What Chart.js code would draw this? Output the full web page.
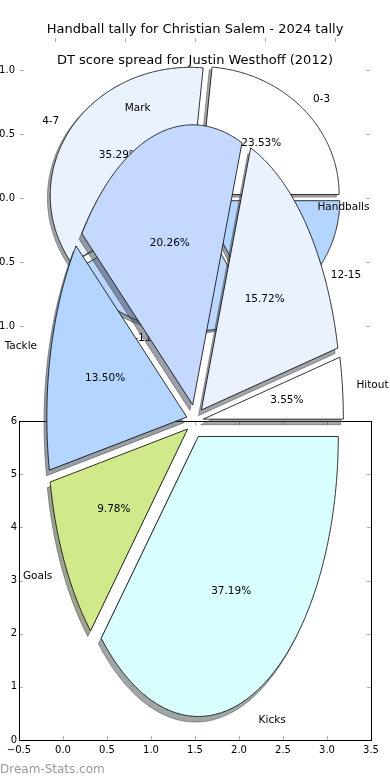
<!DOCTYPE html>
<html><head><meta charset="utf-8">
<script src="https://cdn.jsdelivr.net/npm/chart.js@4.4.1/dist/chart.umd.min.js"></script>
<style>
html,body{margin:0;padding:0;background:#fff;}
#wrap{position:relative;width:390px;height:780px;overflow:hidden;}
#wrap canvas{position:absolute;left:0;top:0;}
</style></head><body>
<div id="wrap">
<canvas id="tally" width="390" height="780"></canvas>
<canvas id="box" width="390" height="780"></canvas>
<canvas id="dt" width="390" height="780"></canvas>
</div>
<script>
// ---- data ----
const tallyTitle = 'Handball tally for Christian Salem - 2024 tally';
const tallyLabels = ['0-3', '4-7', '8-11', '12-15'];
const tallyCounts = [4, 6, 4, 3];
const tallyTicks = [-1, -0.5, 0, 0.5, 1];

const dtTitle = 'DT score spread for Justin Westhoff (2012)';
const dtLabels = ['Hitout', 'Handballs', 'Mark', 'Tackle', 'Goals', 'Kicks'];
const dtPercents = [3.55, 15.72, 20.26, 13.50, 9.78, 37.19];

const boxXTicks = [-0.5, 0, 0.5, 1, 1.5, 2, 2.5, 3, 3.5];
const boxYTicks = [0, 1, 2, 3, 4, 5, 6];

// ---- styles ----
const FONT = '"DejaVu Sans", "Liberation Sans", sans-serif';
const tallyColors = ['#ffffff', '#eaf1ff', '#bcd6ff', '#b3d5ff'];
const dtColors = ['#ffffff', '#eaf1ff', '#c5d8ff', '#b3d5ff', '#cfe98b', '#d8fffe'];
const TICK_GREY = '#adadad';

function fmt1(v) { return (v < 0 ? '\u2212' : '') + Math.abs(v).toFixed(1); }
function shade(hex) {
  const n = parseInt(hex.slice(1), 16);
  const r = ((n >> 16) & 255) * 0.3, g = ((n >> 8) & 255) * 0.3, b = (n & 255) * 0.3;
  return `rgba(${r.toFixed(0)},${g.toFixed(0)},${b.toFixed(0)},0.5)`;
}
function setTicks(list) { return s => { s.ticks = list.map(v => ({ value: v })); }; }

function piePlugin(id, labels, values, colors, explode, title, titleY) {
  return {
    id,
    afterDraw(chart) {
      const ctx = chart.ctx, xs = chart.scales.x, ys = chart.scales.y;
      const X = v => xs.getPixelForValue(v), Y = v => ys.getPixelForValue(v);
      const total = values.reduce((a, b) => a + b, 0);
      let start = 0;
      const wedges = values.map((v, i) => {
        const t1 = start, t2 = start + 360 * v / total; start = t2;
        const m = (t1 + t2) / 2 * Math.PI / 180;
        return { i, t1, t2, m, ox: explode * Math.cos(m), oy: explode * Math.sin(m) };
      });
      const trace = (w, dx, dy) => {
        ctx.beginPath();
        ctx.moveTo(X(w.ox + dx), Y(w.oy + dy));
        const n = Math.max(8, Math.ceil((w.t2 - w.t1) * 2));
        for (let k = 0; k <= n; k++) {
          const a = (w.t1 + (w.t2 - w.t1) * k / n) * Math.PI / 180;
          ctx.lineTo(X(w.ox + dx + Math.cos(a)), Y(w.oy + dy + Math.sin(a)));
        }
        ctx.closePath();
      };
      ctx.save();
      ctx.lineJoin = 'round';
      wedges.forEach(w => {
        const c = shade(colors[w.i]);
        trace(w, -0.02, -0.02);
        ctx.fillStyle = c; ctx.fill();
        ctx.strokeStyle = c; ctx.lineWidth = 1; ctx.stroke();
      });
      wedges.forEach(w => {
        trace(w, 0, 0);
        ctx.fillStyle = colors[w.i]; ctx.fill();
        ctx.strokeStyle = '#000'; ctx.lineWidth = 0.8; ctx.stroke();
      });
      ctx.fillStyle = '#000';
      ctx.font = '10.5px ' + FONT;
      ctx.textBaseline = 'middle';
      wedges.forEach(w => {
        const lx = w.ox + 1.1 * Math.cos(w.m), ly = w.oy + 1.1 * Math.sin(w.m);
        ctx.textAlign = lx > 0 ? 'left' : 'right';
        ctx.fillText(labels[w.i], X(lx), Y(ly));
        const px = w.ox + 0.6 * Math.cos(w.m), py = w.oy + 0.6 * Math.sin(w.m);
        ctx.textAlign = 'center';
        ctx.fillText((100 * values[w.i] / total).toFixed(2) + '%', X(px), Y(py));
      });
      ctx.font = '13px ' + FONT;
      ctx.textAlign = 'center';
      ctx.fillText(title, (chart.chartArea.left + chart.chartArea.right) / 2, titleY);
      ctx.restore();
    }
  };
}

const baseOpts = {
  responsive: false, animation: false, devicePixelRatio: 1,
  plugins: { legend: { display: false }, tooltip: { enabled: false }, title: { display: false } }
};

// ---- chart 1: handball tally pie (its own axes) ----
new Chart(document.getElementById('tally'), {
  type: 'scatter',
  data: { datasets: [] },
  options: Object.assign({}, baseOpts, {
    layout: { padding: { left: 0, right: 20, top: 38, bottom: 422 } },
    scales: {
      x: { type: 'linear', min: -1.25, max: 1.25, display: false, afterBuildTicks: setTicks(tallyTicks) },
      y: {
        type: 'linear', min: -1.25, max: 1.25, position: 'left',
        afterFit: s => { s.width = 20; },
        afterBuildTicks: setTicks(tallyTicks),
        grid: { display: false, drawTicks: false }, border: { display: false },
        ticks: { padding: 5, color: '#000', font: { family: FONT, size: 10 }, callback: v => fmt1(v) }
      }
    }
  }),
  plugins: [{
    id: 'tallyTicks',
    afterDraw(chart) {
      const ctx = chart.ctx, a = chart.chartArea, xs = chart.scales.x, ys = chart.scales.y;
      ctx.save(); ctx.strokeStyle = TICK_GREY; ctx.lineWidth = 1;
      ctx.beginPath();
      tallyTicks.forEach(v => {
        const y = Math.round(ys.getPixelForValue(v)) + 0.5;
        ctx.moveTo(a.left, y); ctx.lineTo(a.left + 4, y);
        ctx.moveTo(a.right - 4, y); ctx.lineTo(a.right, y);
        const x = Math.round(xs.getPixelForValue(v)) + 0.5;
        ctx.moveTo(x, a.top); ctx.lineTo(x, a.top + 4);
      });
      ctx.stroke(); ctx.restore();
    }
  }, piePlugin('tallyPie', tallyLabels, tallyCounts, tallyColors, 0.04, tallyTitle, 30)]
});

// ---- chart 2: the boxed axes ----
new Chart(document.getElementById('box'), {
  type: 'scatter',
  data: { datasets: [] },
  options: Object.assign({}, baseOpts, {
    layout: { padding: { left: 0, right: 19, top: 421, bottom: 0 } },
    scales: {
      x: {
        type: 'linear', min: -0.5, max: 3.5, position: 'bottom',
        afterFit: s => { s.height = 40; },
        afterBuildTicks: setTicks(boxXTicks),
        grid: { display: false, drawTicks: false }, border: { display: false },
        ticks: { padding: 4, color: '#000', autoSkip: false, maxRotation: 0, font: { family: FONT, size: 10 }, callback: v => fmt1(v) }
      },
      y: {
        type: 'linear', min: 0, max: 6, position: 'left',
        afterFit: s => { s.width = 19; },
        afterBuildTicks: setTicks(boxYTicks),
        grid: { display: false, drawTicks: false }, border: { display: false },
        ticks: { padding: 2, color: '#000', autoSkip: false, font: { family: FONT, size: 10 }, callback: v => String(v) }
      }
    }
  }),
  plugins: [{
    id: 'boxFrame',
    afterDraw(chart) {
      const ctx = chart.ctx, a = chart.chartArea, xs = chart.scales.x, ys = chart.scales.y;
      ctx.save();
      ctx.strokeStyle = TICK_GREY; ctx.lineWidth = 1;
      ctx.beginPath();
      boxXTicks.forEach(v => {
        const x = Math.round(xs.getPixelForValue(v)) + 0.5;
        ctx.moveTo(x, a.bottom); ctx.lineTo(x, a.bottom - 4);
        ctx.moveTo(x, a.top); ctx.lineTo(x, a.top + 4);
      });
      boxYTicks.forEach(v => {
        const y = Math.round(ys.getPixelForValue(v)) + 0.5;
        ctx.moveTo(a.left, y); ctx.lineTo(a.left + 4, y);
        ctx.moveTo(a.right, y); ctx.lineTo(a.right - 4, y);
      });
      ctx.stroke();
      ctx.strokeStyle = '#000'; ctx.lineWidth = 1;
      ctx.strokeRect(Math.round(a.left) + 0.5, Math.round(a.top) + 0.5, Math.round(a.right - a.left), Math.round(a.bottom - a.top));
      ctx.fillStyle = '#999999';
      ctx.font = '12px ' + FONT;
      ctx.textAlign = 'left'; ctx.textBaseline = 'middle';
      ctx.fillText('Dream-Stats.com', 0, 770);
      ctx.restore();
    }
  }]
});

// ---- chart 3: DT score spread pie (its own hidden axes) ----
new Chart(document.getElementById('dt'), {
  type: 'scatter',
  data: { datasets: [] },
  options: Object.assign({}, baseOpts, {
    layout: { padding: { left: 20, right: 20, top: 71, bottom: 9 } },
    scales: {
      x: { type: 'linear', min: -1.25, max: 1.25, display: false },
      y: { type: 'linear', min: -1.25, max: 1.25, display: false }
    }
  }),
  plugins: [piePlugin('dtPie', dtLabels, dtPercents, dtColors, 0.06, dtTitle, 61)]
});
</script>
</body></html>
